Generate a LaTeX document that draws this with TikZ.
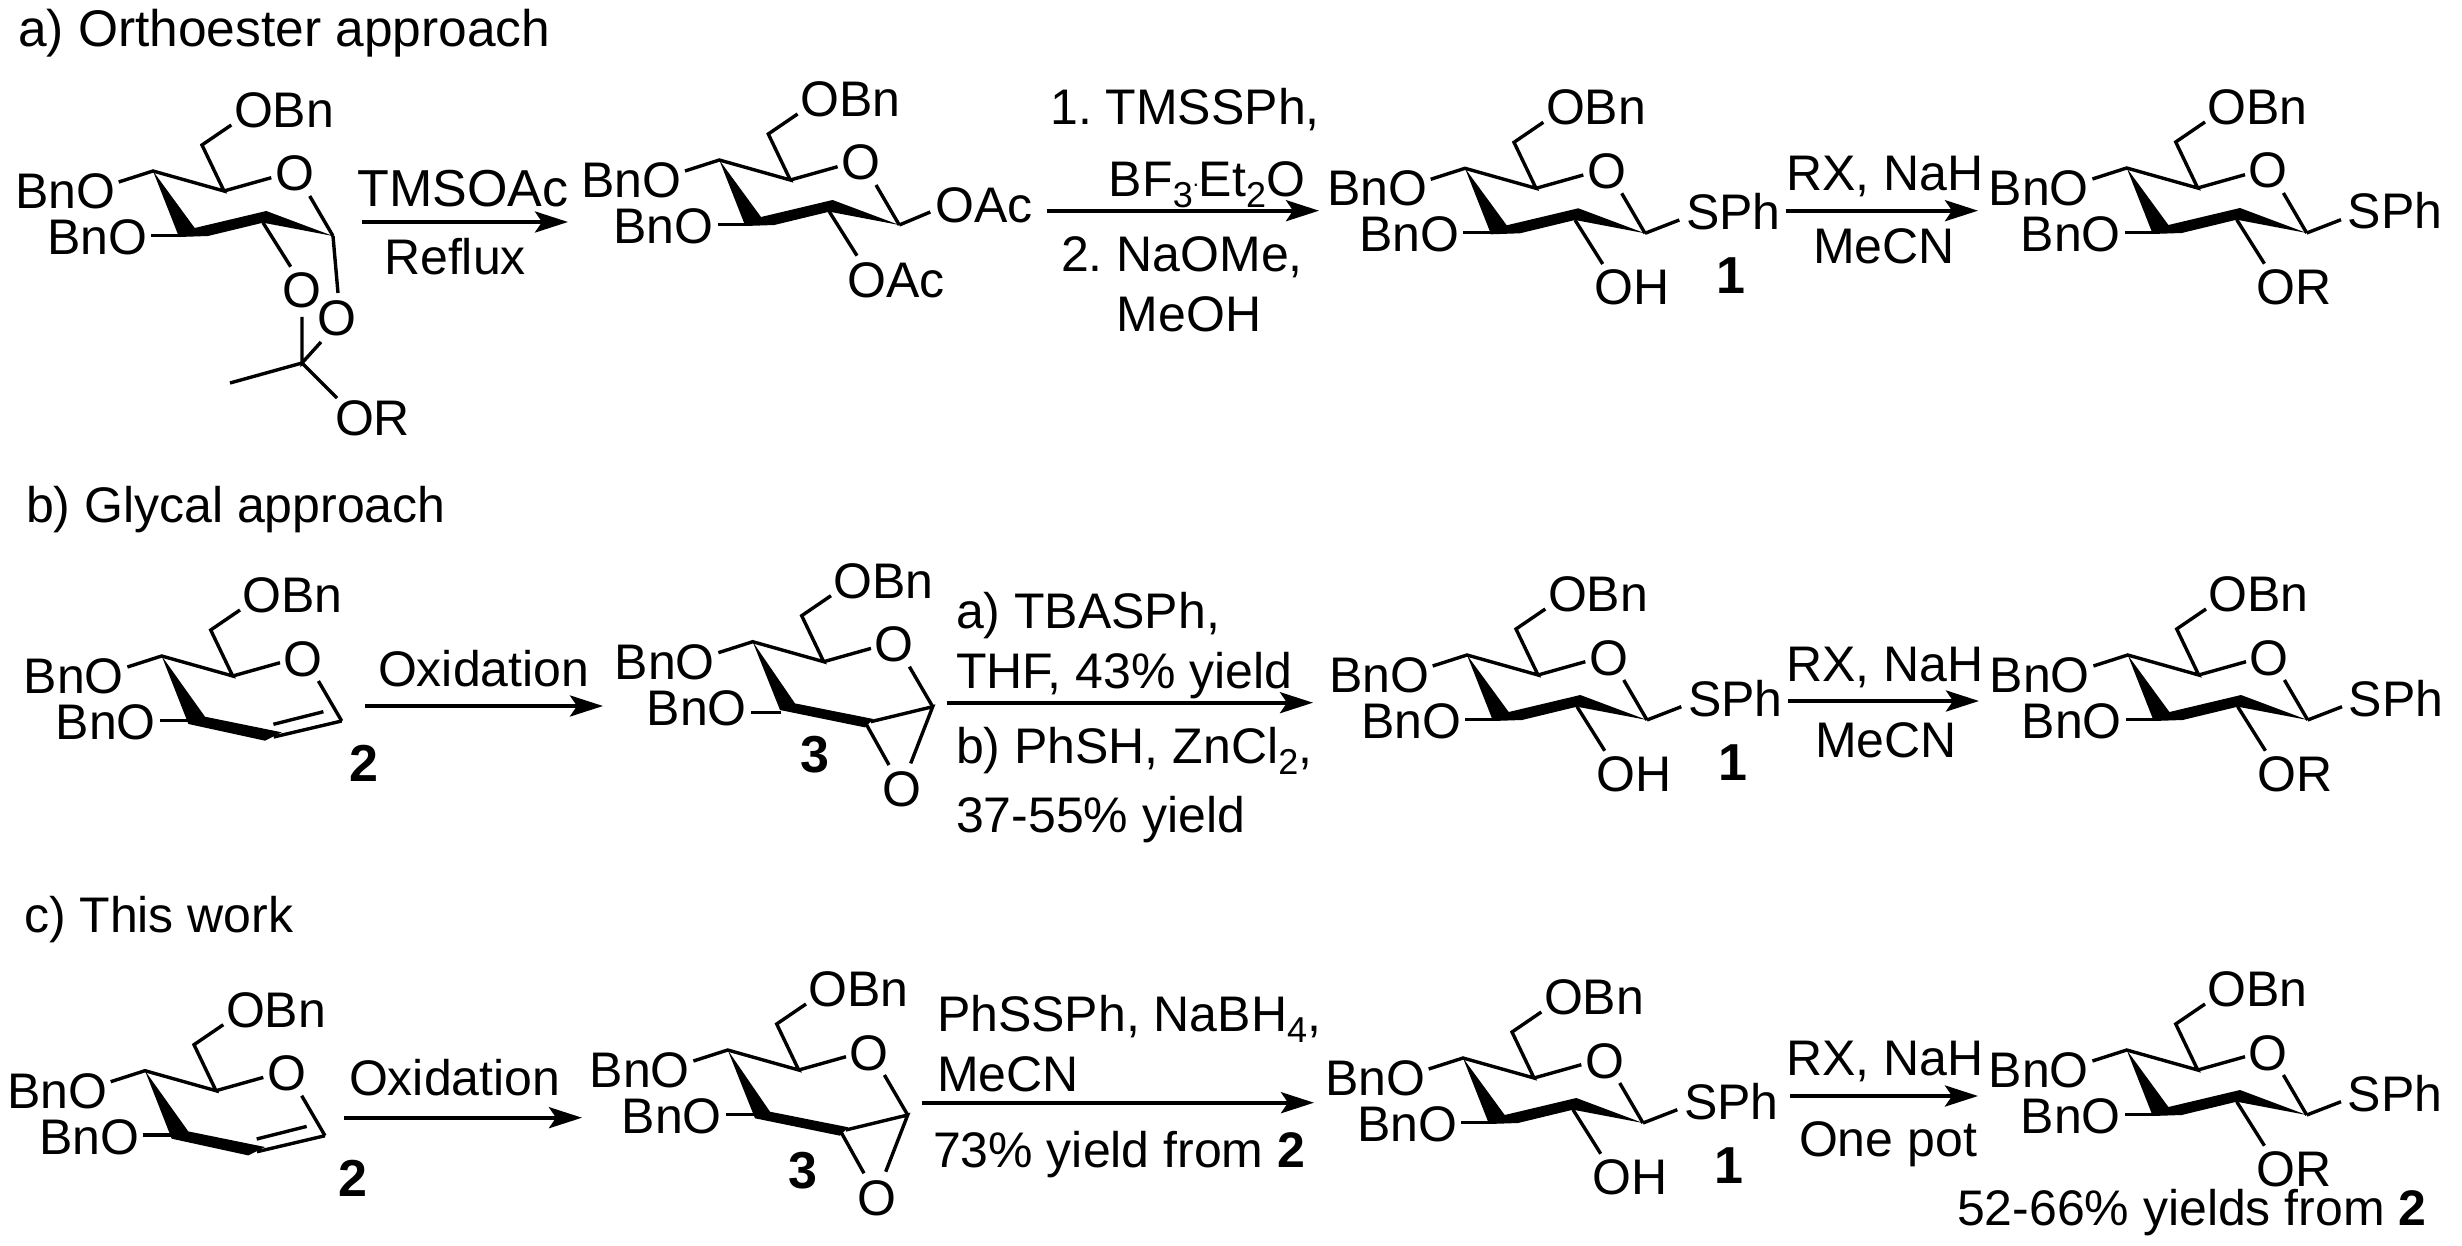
\documentclass[tikz,border=0pt]{standalone}
\usepackage{fontspec}
\setmainfont{Liberation Sans}
\usetikzlibrary{arrows.meta}
\frenchspacing

\tikzset{
  lbl/.style={inner sep=0pt, outer sep=0pt, anchor=base west, font=\fontsize{50}{52}\selectfont},
  atom/.style={lbl, anchor=base},
  reag/.style={lbl},
  reagc/.style={reag, anchor=base},
  cmpd/.style={atom, font=\fontsize{52}{52}\selectfont\bfseries},
  bond/.style={line width=3.4pt, line join=miter, draw=black},
  rxn/.style={line width=4pt, -{Stealth[length=33pt,width=21pt,inset=7pt]}}
}
\newcommand{\subdn}[1]{\raisebox{-11pt}{\fontsize{36}{36}\selectfont #1}}

% parts shared by all the pyranose rings, C4 at the local origin
\newcommand{\ringtop}[1][64.4]{
  \coordinate (c4) at (0,0);
  \coordinate (c5) at (71,20);
  \coordinate (c6) at (49,-26);
  \coordinate (c1) at (180,65);
  \node[lbl] (obn) at (81,-43.3) {OBn};
  \node[atom] (ringo) at (141.7,20) {O};
  \node[lbl] (bno1) at (-138,37.7) {BnO};
  \node[lbl] (bno2) at (-106,83.4) {BnO};
  \draw[bond] (78.3,-46) -- (c6) -- (c5) -- (c4) -- (-34.3,11);
  \draw[bond] (c5) -- (118.3,6.7);
  \draw[bond] (156.7,25) -- (c1);
  \draw[bond] (-1.7,#1) -- (28,#1);
}
\newcommand{\glucoband}{
  \fill (c4) -- (41.7,57) -- (113.3,40) -- (c1) -- (110,51.7) -- (55,65) -- (26,66) -- cycle;
  \draw[bond] (110,51.7) -- (137.7,95.7);
}
\newcommand{\glycalband}{
  \fill (c4) -- (43.3,60.7) -- (120,76.3) -- (103.3,84.7) -- (26.7,68) -- cycle;
  \draw[bond] (112,81) -- (c1);
  \draw[bond] (111.7,68.3) -- (161.7,55.7);
}
\newcommand{\epoxband}{
  \fill (c4) -- (42.3,61.7) -- (120.7,77.3) -- (112.3,85.7) -- (27.3,68.3) -- cycle;
  \draw[bond] (118,80) -- (c1) -- (158,121.7);
  \draw[bond] (114,83.3) -- (136.3,123.3);
  \node[atom] (epoxo) at (149,165) {O};
}
\newcommand{\thioend}[1]{
  \glucoband
  \draw[bond] (c1) -- (214.3,51.7);
  \node[lbl] (sph) at (221,61) {SPh};
  \node[lbl] (sub) at (129.5,136.7) {#1};
}

\begin{document}
\begin{tikzpicture}[x=1pt,y=-1pt]
\path[use as bounding box,fill=white] (0,0) rectangle (2462,1246);

% a) orthoester route
\node[reag,scale=1.03] (tta) at (18,47) {a) Orthoester approach};
\begin{scope}[shift={(153,171)},name prefix=a1-]
\ringtop \glucoband
\node[atom] (o2) at (149,137) {O};
\node[atom] (o1) at (184,165) {O};
\coordinate (cq) at (149,192);
\draw[bond] (c1) -- (185,122);
\draw[bond] (149,146) -- (cq) -- (168,171);
\draw[bond] (77,212) -- (cq) -- (184,227);
\node[lbl] (or) at (182,264) {OR};
\end{scope}
\node[reagc,scale=1.04] (ra1) at (463,207) {TMSOAc};
\node[reagc] (ra2) at (455,275) {Reflux};
\coordinate (aa1) at (362,222); \coordinate (ab1) at (568,222);
\draw[rxn] (aa1) -- (ab1);

\begin{scope}[shift={(719.3,160)},name prefix=a2-]
\ringtop \glucoband
\draw[bond] (c1) -- (211,52);
\node[lbl] (oac1) at (216,62.7) {OAc};
\node[lbl] (oac2) at (128,137.7) {OAc};
\end{scope}
\node[reagc] (rb1) at (1185,125) {1. TMSSPh,};
\node[reagc] (rb2) at (1207,197) {BF\subdn{3}\raisebox{10pt}{\fontsize{22}{22}\selectfont.}Et\subdn{2}O};
\node[reagc] (rb3) at (1182,272) {2. NaOMe,};
\node[reagc] (rb4) at (1189,332) {MeOH};
\coordinate (aa2) at (1046.7,210.7); \coordinate (ab2) at (1319,210.7);
\draw[rxn] (aa2) -- (ab2);

\begin{scope}[shift={(1465,168.3)},name prefix=a3-]
\ringtop \thioend{OH}
\node[cmpd] (n1) at (266,125.7) {1};
\end{scope}
\node[reagc] (rc1) at (1885,190.7) {RX, NaH};
\node[reagc] (rc2) at (1884,264) {MeCN};
\coordinate (aa3) at (1785.7,210.7); \coordinate (ab3) at (1978,210.7);
\draw[rxn] (aa3) -- (ab3);

\begin{scope}[shift={(2126.7,168)},name prefix=a4-]
\ringtop \thioend{OR}
\end{scope}

% b) glycal route
\node[reag] (ttb) at (26,522) {b) Glycal approach};
\begin{scope}[shift={(161.7,656)},name prefix=b1-]
\ringtop \glycalband
\node[cmpd] (n2) at (202.7,125.7) {2};
\end{scope}
\node[reag] (rd1) at (378,686.7) {Oxidation};
\coordinate (aa4) at (365,706); \coordinate (ab4) at (603,706);
\draw[rxn] (aa4) -- (ab4);

\begin{scope}[shift={(752.7,641.7)},name prefix=b2-]
\ringtop[71] \epoxband
\node[cmpd] (n3) at (62.3,131) {3};
\end{scope}
\node[reag] (re1) at (956,628) {a) TBASPh,};
\node[reag] (re2) at (956,688) {THF, 43\% yield};
\node[reag] (re3) at (956,763) {b) PhSH, ZnCl\subdn{2},};
\node[reag] (re4) at (956,832) {37-55\% yield};
\coordinate (aa5) at (946.7,702.7); \coordinate (ab5) at (1313,702.7);
\draw[rxn] (aa5) -- (ab5);

\begin{scope}[shift={(1467,655)},name prefix=b3-]
\ringtop \thioend{OH}
\node[cmpd] (n1) at (266,125.7) {1};
\end{scope}
\node[reagc] (rf1) at (1885,681) {RX, NaH};
\node[reagc] (rf2) at (1886,757) {MeCN};
\coordinate (aa6) at (1788,701); \coordinate (ab6) at (1979,701);
\draw[rxn] (aa6) -- (ab6);

\begin{scope}[shift={(2127.7,655)},name prefix=b4-]
\ringtop \thioend{OR}
\end{scope}

% c) this work
\node[reag] (ttc) at (24,932) {c) This work};
\begin{scope}[shift={(145,1070.7)},name prefix=c1-]
\ringtop \glycalband
\node[cmpd] (n2) at (208.3,125.3) {2};
\end{scope}
\node[reag] (rg1) at (349,1095) {Oxidation};
\coordinate (aa7) at (344,1117.7); \coordinate (ab7) at (582,1117.7);
\draw[rxn] (aa7) -- (ab7);

\begin{scope}[shift={(727.7,1050)},name prefix=c2-]
\ringtop \epoxband
\node[cmpd] (n3) at (75,138) {3};
\end{scope}
\node[reag] (rh1) at (937,1031) {PhSSPh, NaBH\subdn{4},};
\node[reag] (rh2) at (937,1091) {MeCN};
\node[reag] (rh3) at (933,1167) {73\% yield from {\bfseries 2}};
\coordinate (aa8) at (922.3,1102.7); \coordinate (ab8) at (1314,1102.7);
\draw[rxn] (aa8) -- (ab8);

\begin{scope}[shift={(1463,1058)},name prefix=c3-]
\ringtop \thioend{OH}
\node[cmpd] (n1) at (266,125.7) {1};
\end{scope}
\node[reagc] (ri1) at (1885,1075) {RX, NaH};
\node[reagc] (ri2) at (1888,1156) {One pot};
\coordinate (aa9) at (1790,1096); \coordinate (ab9) at (1978,1096);
\draw[rxn] (aa9) -- (ab9);

\begin{scope}[shift={(2126.7,1050)},name prefix=c4-]
\ringtop \thioend{OR}
\end{scope}
\node[reag] (rj1) at (1957,1225) {52-66\% yields from {\bfseries 2}};
\end{tikzpicture}
\end{document}
